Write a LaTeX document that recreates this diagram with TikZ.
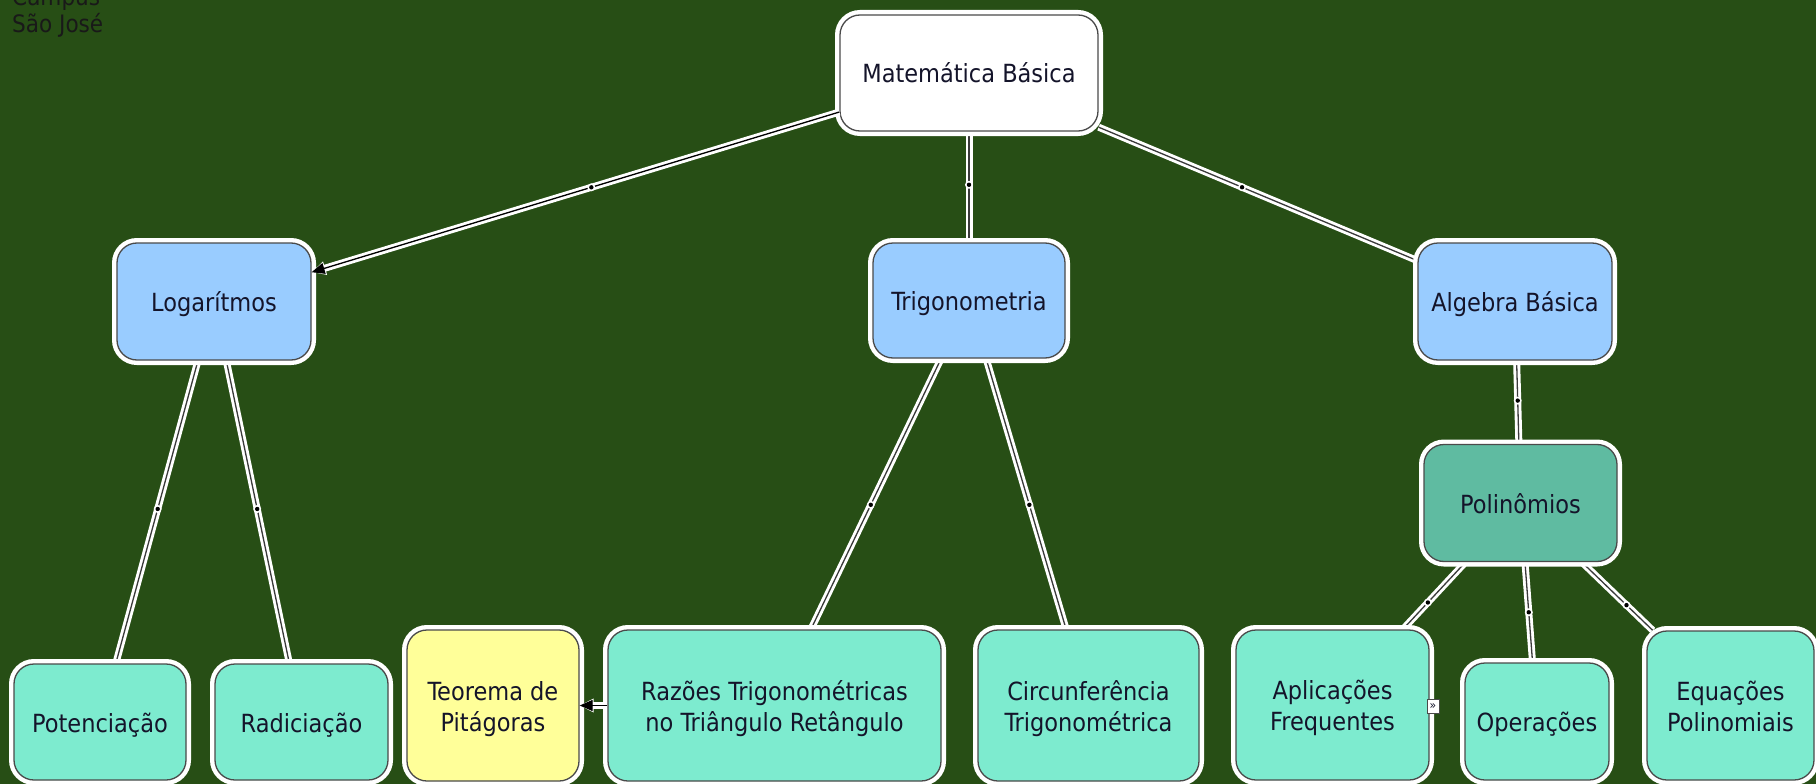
\documentclass[tikz,border=0pt]{standalone}
\usepackage{fontspec}
\newfontfamily\nodefont{DejaVu Sans Condensed}
\usetikzlibrary{arrows.meta}
\definecolor{bgc}{HTML}{274E15}
\definecolor{cblue}{HTML}{99CCFF}
\definecolor{cmint}{HTML}{7DEBCF}
\definecolor{cpol}{HTML}{5FBBA1}
\definecolor{cyel}{HTML}{FFFF99}
\definecolor{bord}{HTML}{4A4A4A}
\definecolor{txt}{HTML}{14142A}
\definecolor{edgec}{HTML}{3A3A3A}
\pgfdeclarelayer{bglayer}
\pgfdeclarelayer{edgelayer}
\pgfsetlayers{bglayer,edgelayer,main}
\newcommand\sA{\rule[-6pt]{0pt}{32pt}}
\newcommand\sT{\rule{0pt}{26pt}}
\newcommand\sB{\rule[-6pt]{0pt}{6pt}}
\begin{document}
\begin{tikzpicture}[x=1pt,y=-1pt,
  cbox/.style={rectangle, rounded corners=20pt, draw=bord, line width=1.3pt,
    preaction={draw=white, line width=10pt}, text=txt,
    font=\nodefont\fontsize{25}{31}\selectfont, align=center, inner sep=0pt},
  whitebox/.style={cbox, fill=white},
  bluebox/.style={cbox, fill=cblue},
  mintbox/.style={cbox, fill=cmint},
  polbox/.style={cbox, fill=cpol},
  yelbox/.style={cbox, fill=cyel},
  conn/.style={draw=white, line width=7pt, postaction={draw=edgec, line width=1.3pt}},
  band/.style={draw=white, line width=7pt},
  tipwhite/.style={draw=white, fill=white, line width=3.5pt, -{Triangle[length=14pt,width=13pt]}},
  tipdark/.style={draw=black, fill=black, line width=1.3pt, -{Triangle[length=13pt,width=11pt]}},
  toptext/.style={anchor=base west, inner sep=0pt, text=black!90, font=\nodefont\fontsize{24}{28}\selectfont}
]
\useasboundingbox (0,0) rectangle (1816,784);
\begin{pgfonlayer}{bglayer}
  \fill[bgc] (0,0) rectangle (1816,784);
\end{pgfonlayer}

\node[toptext] (campus) at (12,6) {Campus};
\node[toptext] (sj) at (12,33) {São José};

\node[whitebox, minimum width=258pt, minimum height=116pt] (mat) at (969,73) {\sA Matemática Básica};
\node[bluebox, minimum width=194pt, minimum height=117pt] (log) at (214,301.5) {\sA Logarítmos};
\node[bluebox, minimum width=192pt, minimum height=115pt] (trig) at (969,300.5) {\sA Trigonometria};
\node[bluebox, minimum width=194pt, minimum height=117pt] (alg) at (1515,301.5) {\sA Algebra Básica};
\node[polbox, minimum width=193pt, minimum height=117pt] (pol) at (1520.5,503) {\sA Polinômios};
\node[mintbox, minimum width=172pt, minimum height=116pt] (pot) at (100,722) {\sA Potenciação};
\node[mintbox, minimum width=173pt, minimum height=116pt] (rad) at (301.5,722) {\sA Radiciação};
\node[yelbox, minimum width=172pt, minimum height=151pt] (teo) at (493,705.5) {\sT Teorema de\\Pitágoras\sB};
\node[mintbox, minimum width=333pt, minimum height=151pt] (raz) at (774.5,705.5) {\sT Razões Trigonométricas\\no Triângulo Retângulo\sB};
\node[mintbox, minimum width=221pt, minimum height=151pt] (circ) at (1088.5,705.5) {\sT Circunferência\\Trigonométrica\sB};
\node[mintbox, minimum width=193pt, minimum height=150pt] (apl) at (1332.5,705) {\sT Aplicações\\Frequentes\sB};
\node[mintbox, minimum width=144pt, minimum height=117pt] (op) at (1537,721.5) {\sA Operações};
\node[mintbox, minimum width=167pt, minimum height=149pt] (eq) at (1730.5,705.5) {\sT Equações\\Polinomiais\sB};

\node[draw=bord, fill=white, line width=0.8pt, minimum width=12pt, minimum height=14pt, inner sep=0pt,
  text=txt, font=\nodefont\fontsize{12}{12}\selectfont] (ico) at (1433,706.5) {»};

\begin{pgfonlayer}{edgelayer}
  \draw[conn] (mat) -- coordinate[pos=0.48] (d2) (trig);
  \draw[conn] (mat) -- coordinate[pos=0.45] (d3) (alg);
  \draw[conn] (log) -- coordinate[pos=0.49] (d4) (pot);
  \draw[conn] (log) -- coordinate[pos=0.49] (d5) (rad);
  \draw[conn] (trig) -- coordinate[pos=0.54] (d6) (raz);
  \draw[conn] (trig) -- coordinate[pos=0.54] (d7) (circ);
  \draw[conn] (alg) -- coordinate[pos=0.48] (d8) (pol);
  \draw[conn] (pol) -- coordinate[pos=0.60] (d9) (apl);
  \draw[conn] (pol) -- coordinate[pos=0.50] (d10) (op);
  \draw[conn] (pol) -- coordinate[pos=0.63] (d11) (eq);
  \foreach \d in {d2,d3,d4,d5,d6,d7,d8,d9,d10,d11}{
    \fill[white] (\d) circle (4pt);
    \fill[black] (\d) circle (2.2pt);
  }
\end{pgfonlayer}

% arrowed connectors on top
\draw[band, shorten >=12pt] (mat) -- coordinate[pos=0.47] (d1) (log);
\draw[tipwhite] (mat) -- (log);
\draw[tipdark] (mat) -- (log);
\fill[white] (d1) circle (4pt);
\fill[black] (d1) circle (2.2pt);

\draw[band, shorten >=12pt] (raz) -- (teo);
\draw[tipwhite] (raz) -- (teo);
\draw[tipdark] (raz) -- (teo);
\end{tikzpicture}
\end{document}
